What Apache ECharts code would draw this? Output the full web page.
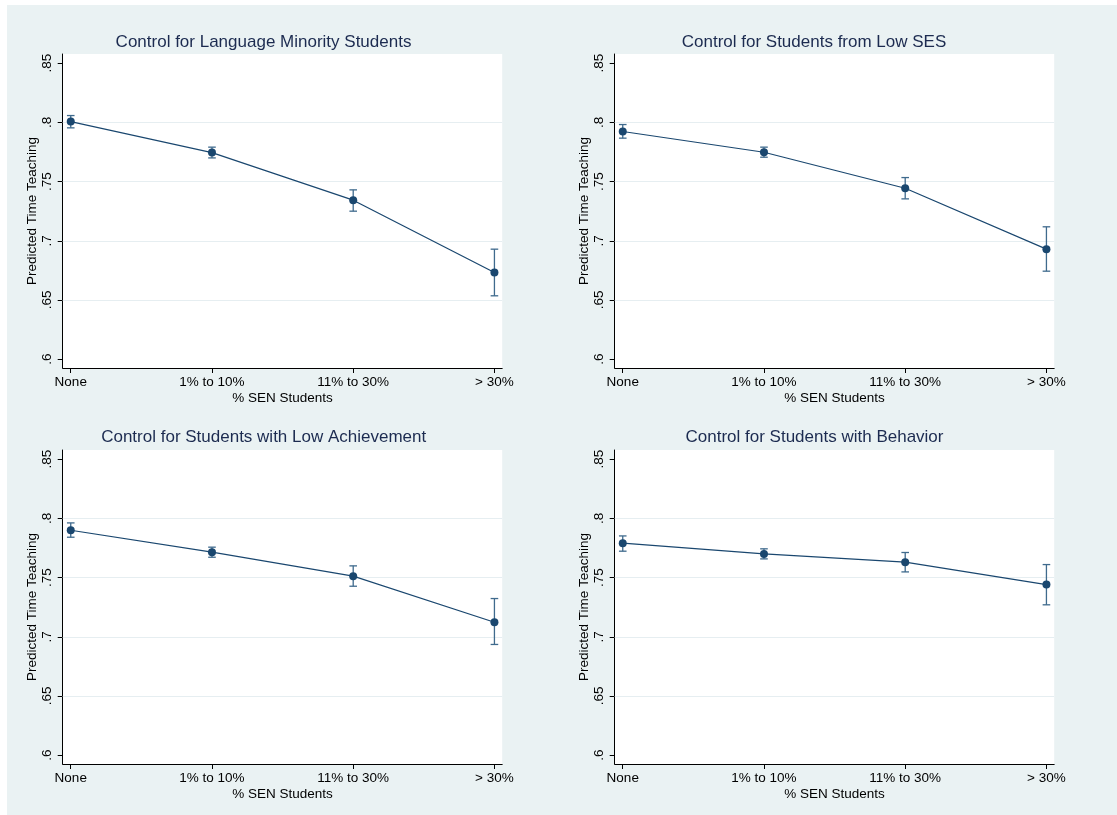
<!DOCTYPE html>
<html>
<head>
<meta charset="utf-8">
<script src="https://cdn.jsdelivr.net/npm/echarts@6/dist/echarts.min.js"></script>
<style>
html,body{margin:0;padding:0;background:#ffffff;}
#bg{position:absolute;left:7px;top:5px;width:1110px;height:810px;background:#EAF2F3;}
#chart{position:absolute;left:0;top:0;width:1117px;height:815px;}
</style>
</head>
<body>
<div id="bg"></div>
<div id="chart"></div>
<script>
// ---------- data ----------
const categories = ['None', '1% to 10%', '11% to 30%', '> 30%'];
const panelTitles = [
  'Control for Language Minority Students',
  'Control for Students from Low SES',
  'Control for Students with Low Achievement',
  'Control for Students with Behavior'
];
const estLanguage = [0.8007, 0.7745, 0.7343, 0.6732];
const lowLanguage = [0.7954, 0.7700, 0.7250, 0.6535];
const highLanguage = [0.8058, 0.7791, 0.7430, 0.6929];

const estSES = [0.7923, 0.7748, 0.7444, 0.6929];
const lowSES = [0.7867, 0.7706, 0.7354, 0.6743];
const highSES = [0.7982, 0.7791, 0.7534, 0.7118];

const estAchievement = [0.7900, 0.7715, 0.7512, 0.7123];
const lowAchievement = [0.7841, 0.7672, 0.7427, 0.6935];
const highAchievement = [0.7962, 0.7757, 0.7599, 0.7323];

const estBehavior = [0.7791, 0.7700, 0.7630, 0.7441];
const lowBehavior = [0.7723, 0.7658, 0.7548, 0.7270];
const highBehavior = [0.7852, 0.7743, 0.7712, 0.7610];

const yTicks = [0.6, 0.65, 0.7, 0.75, 0.8, 0.85];
const yTickLabels = ['.6', '.65', '.7', '.75', '.8', '.85'];
const gridLineValues = [0.65, 0.7, 0.75, 0.8];
const xTicks = [0, 1, 2, 3];

const yAxisTitle = 'Predicted Time Teaching';
const xAxisTitle = '% SEN Students';

// ---------- layout / style ----------
const panels = [
  {est: estLanguage, low: lowLanguage, high: highLanguage, left: 62.7, top: 54, titleX: 263.5, titleY: 42},
  {est: estSES, low: lowSES, high: highSES, left: 614.7, top: 54, titleX: 814, titleY: 42},
  {est: estAchievement, low: lowAchievement, high: highAchievement, left: 62.7, top: 450, titleX: 263.7, titleY: 437.3},
  {est: estBehavior, low: lowBehavior, high: highBehavior, left: 614.7, top: 450, titleX: 814.5, titleY: 437.3}
];
const gridW = 439.5, gridH = 314;
const FONT = '"Liberation Sans", Arial, Helvetica, sans-serif';
const lineColor = '#1a476f';
const ebColor = '#3f6a8d';
const axisColor = '#000000';

const grids = [], xAxes = [], yAxes = [], series = [], graphics = [];

panels.forEach((p, k) => {
  grids.push({
    left: p.left, top: p.top, width: gridW, height: gridH,
    show: true, backgroundColor: '#ffffff', borderWidth: 0, containLabel: false
  });
  xAxes.push({
    gridIndex: k, type: 'value', min: -0.057, max: 3.055,
    name: xAxisTitle, nameLocation: 'middle', nameGap: 23,
    nameTextStyle: {fontFamily: FONT, fontSize: 13.5, color: '#000'},
    axisLine: {show: true, onZero: false, lineStyle: {color: axisColor, width: 1}},
    axisTick: {show: true, length: 5, customValues: xTicks, lineStyle: {color: axisColor}},
    axisLabel: {
      customValues: xTicks, margin: 7,
      fontFamily: FONT, fontSize: 13.5, color: '#000',
      formatter: v => categories[Math.round(v)]
    },
    splitLine: {show: false}
  });
  yAxes.push({
    gridIndex: k, type: 'value', min: 0.5925, max: 0.8578,
    name: yAxisTitle, nameLocation: 'middle', nameGap: 23, nameRotate: 90,
    nameTextStyle: {fontFamily: FONT, fontSize: 13.5, color: '#000'},
    axisLine: {show: true, onZero: false, lineStyle: {color: axisColor, width: 1}},
    axisTick: {show: true, length: 5, customValues: yTicks, lineStyle: {color: axisColor}},
    axisLabel: {
      customValues: yTicks, rotate: 90, margin: 8,
      fontFamily: FONT, fontSize: 13.5, color: '#000',
      formatter: v => {
        const i = yTicks.findIndex(t => Math.abs(t - v) < 1e-6);
        return i >= 0 ? yTickLabels[i] : '';
      }
    },
    splitLine: {show: false}
  });
  series.push({
    type: 'custom', xAxisIndex: k, yAxisIndex: k, z: 2, silent: true,
    data: p.est.map((v, i) => [i, p.low[i], p.high[i]]),
    encode: {x: 0, y: [1, 2]},
    renderItem: (params, api) => {
      const x = api.value(0);
      const lo = api.coord([x, api.value(1)]);
      const hi = api.coord([x, api.value(2)]);
      const w = 3.8;
      const st = {stroke: ebColor, lineWidth: 1.3};
      return {type: 'group', children: [
        {type: 'line', shape: {x1: lo[0], y1: lo[1], x2: hi[0], y2: hi[1]}, style: st},
        {type: 'line', shape: {x1: lo[0] - w, y1: lo[1], x2: lo[0] + w, y2: lo[1]}, style: st},
        {type: 'line', shape: {x1: hi[0] - w, y1: hi[1], x2: hi[0] + w, y2: hi[1]}, style: st}
      ]};
    }
  });
  series.push({
    type: 'line', xAxisIndex: k, yAxisIndex: k, z: 3, silent: true,
    data: p.est.map((v, i) => [i, v]),
    symbol: 'circle', symbolSize: 8, showSymbol: true,
    lineStyle: {color: lineColor, width: 1.2},
    itemStyle: {color: lineColor},
    markLine: {
      silent: true, symbol: ['none', 'none'], z: 1,
      label: {show: false},
      lineStyle: {color: '#E6EEF1', width: 1, type: 'solid'},
      emphasis: {disabled: true},
      data: gridLineValues.map(v => ({yAxis: v}))
    }
  });
  graphics.push({
    type: 'text', x: p.titleX, y: p.titleY, silent: true,
    style: {
      text: panelTitles[k], fill: '#1c2b50',
      font: '17px ' + FONT, textAlign: 'center', textVerticalAlign: 'middle'
    }
  });
});

const chart = echarts.init(document.getElementById('chart'), null, {renderer: 'canvas'});
chart.setOption({
  backgroundColor: 'transparent',
  animation: false,
  grid: grids,
  xAxis: xAxes,
  yAxis: yAxes,
  series: series,
  graphic: graphics
});
</script>
</body>
</html>
